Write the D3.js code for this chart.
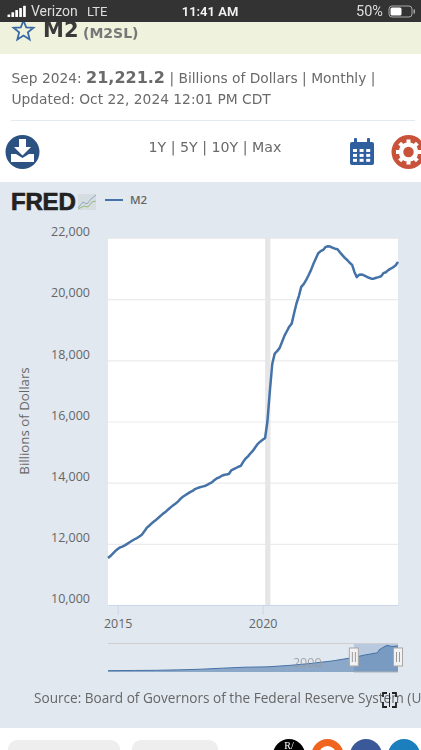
<!DOCTYPE html>
<html>
<head>
<meta charset="utf-8">
<script src="https://cdn.jsdelivr.net/npm/d3@7"></script>
<style>
  html, body { margin: 0; padding: 0; background: #fff; overflow: hidden; }
  svg { display: block; filter: blur(0.4px); }
  text { font-family: "Open Sans", sans-serif; }
  .top-text { font-family: "DejaVu Sans", sans-serif; fill: #6a6a6a; }
  .tick-label text { fill: #666; font-size: 12.5px; font-family: "Open Sans", sans-serif; }
</style>
</head>
<body>
<div id="chart"></div>
<script>
// M2 monthly, Sep 2014 to Sep 2024
const startMonth = "2014-09-01";
const values2014 = [11537, 11600, 11680, 11760];
const values2015 = [11830, 11885, 11910, 11950, 12000, 12050, 12100, 12150, 12190, 12240, 12300, 12400];
const values2016 = [12520, 12590, 12660, 12730, 12790, 12860, 12930, 13000, 13060, 13130, 13200, 13260];
const values2017 = [13320, 13390, 13470, 13540, 13590, 13640, 13690, 13730, 13790, 13820, 13850, 13870];
const values2018 = [13890, 13930, 13970, 14010, 14080, 14140, 14170, 14220, 14250, 14270, 14283, 14400];
const values2019 = [14440, 14480, 14520, 14550, 14680, 14790, 14860, 14960, 15045, 15160, 15270, 15340];
const values2020 = [15400, 15460, 16000, 17000, 17880, 18220, 18300, 18400, 18600, 18800, 18950, 19100];
const values2021 = [19200, 19550, 19850, 20100, 20400, 20490, 20620, 20780, 20950, 21150, 21330, 21500];
const values2022 = [21570, 21610, 21700, 21730, 21720, 21680, 21650, 21630, 21530, 21440, 21350, 21280];
const values2023 = [21190, 21120, 20900, 20720, 20800, 20810, 20780, 20740, 20700, 20670, 20670, 20700];
const values2024 = [20720, 20750, 20850, 20880, 20950, 21000, 21040, 21100, 21221];

const yTicks = [10000, 12000, 14000, 16000, 18000, 20000, 22000];
const xTickYears = [2015, 2020];
const recession = ["2020-02-01", "2020-04-08"];

// whole history for the navigator, rough yearly reading
const navYears = [1959, 1965, 1970, 1975, 1980, 1985, 1990, 1995, 2000, 2005, 2010, 2014.7, 2017, 2020.1, 2020.4, 2021, 2022.2, 2023.3, 2024.7];
const navValues = [290, 450, 600, 960, 1500, 2400, 3200, 3500, 4700, 6400, 8600, 11500, 13400, 15500, 17900, 19200, 21730, 20720, 21221];

const parseDate = d3.utcParse("%Y-%m-%d");
const allValues = [].concat(values2014, values2015, values2016, values2017, values2018, values2019, values2020, values2021, values2022, values2023, values2024);
const months = d3.utcMonth.range(parseDate(startMonth), d3.utcMonth.offset(parseDate(startMonth), allValues.length));
const data = months.map((m, i) => ({ date: m, value: allValues[i] }));

const W = 421, H = 750;
const plot = { left: 108, right: 398, top: 238, bottom: 605 };

const svg = d3.select("#chart").append("svg").attr("width", W).attr("height", H);

drawHeader();
drawChart();
drawNavigator();
drawFooter();

function drawHeader() {
  // title band, sits under the status bar
  svg.append("rect").attr("y", 22).attr("width", W).attr("height", 32).attr("fill", "#eff2dd");
  svg.append("path")
    .attr("d", starPath(23.5, 31, 10.5, 4.6))
    .attr("fill", "none").attr("stroke", "#3a6aa5").attr("stroke-width", 1.8);
  svg.append("text").attr("class", "top-text").attr("x", 43).attr("y", 37)
    .style("font-size", "21px").style("font-weight", "bold").style("fill", "#3a3a3a").text("M2");
  svg.append("text").attr("class", "top-text").attr("x", 83).attr("y", 38)
    .style("font-size", "14px").style("font-weight", "bold").style("fill", "#777").text("(M2SL)");

  // status bar
  svg.append("rect").attr("width", W).attr("height", 22).attr("fill", "#333");
  svg.selectAll(".signal").data([0, 1, 2, 3, 4]).enter().append("rect")
    .attr("x", d => 7.5 + d * 3.9).attr("y", d => 14.5 - d * 2.2)
    .attr("width", 2.7).attr("height", d => 2.5 + d * 2.2).attr("rx", 0.5).attr("fill", "#fff");
  statusText(31, "start", "Verizon", "#ddd").style("font-size", "14px");
  statusText(87, "start", "LTE", "#ddd");
  statusText(210, "middle", "11:41 AM", "#f4f4f4").style("font-weight", 600);
  statusText(356, "start", "50%", "#ddd").style("font-size", "14.5px");
  svg.append("rect").attr("x", 389).attr("y", 6).attr("width", 23).attr("height", 11).attr("rx", 3)
    .attr("fill", "none").attr("stroke", "#aaa").attr("stroke-width", 1);
  svg.append("rect").attr("x", 390.5).attr("y", 7.5).attr("width", 11).attr("height", 8).attr("rx", 1.5).attr("fill", "#fff");
  svg.append("rect").attr("x", 413.5).attr("y", 9.5).attr("width", 1.5).attr("height", 4).attr("fill", "#aaa");

  // value line
  const line1 = svg.append("text").attr("class", "top-text").attr("x", 11.5).attr("y", 83).style("font-size", "13.8px");
  line1.append("tspan").text("Sep 2024: ");
  line1.append("tspan").style("font-weight", "bold").style("font-size", "16px").text("21,221.2");
  line1.append("tspan").text(" | Billions of Dollars | Monthly |");
  svg.append("text").attr("class", "top-text").attr("x", 11.5).attr("y", 104).style("font-size", "13.8px")
    .text("Updated: Oct 22, 2024 12:01 PM CDT");
  svg.append("line").attr("x1", 11).attr("x2", 415).attr("y1", 120.5).attr("y2", 120.5)
    .attr("stroke", "#e3eaf1").attr("stroke-width", 1);

  svg.append("text").attr("class", "top-text").attr("x", 215).attr("y", 152).attr("text-anchor", "middle")
    .style("font-size", "14.2px").text("1Y | 5Y | 10Y | Max");

  // download button
  svg.append("circle").attr("cx", 22.5).attr("cy", 152).attr("r", 17).attr("fill", "#2c5282");
  svg.append("path").attr("d", "M19 139h7v8h5l-8.500 8.500l-8.500-8.500h5z").attr("fill", "#fff");
  svg.append("path").attr("d", "M11 154h5l6.500 4l6.500-4h5v8h-23z").attr("fill", "#fff");

  // calendar
  svg.append("rect").attr("x", 350).attr("y", 142).attr("width", 24).attr("height", 23).attr("rx", 2).attr("fill", "#2f5f9f");
  svg.append("rect").attr("x", 354).attr("y", 138).attr("width", 3).attr("height", 6).attr("rx", 1).attr("fill", "#2f5f9f");
  svg.append("rect").attr("x", 367).attr("y", 138).attr("width", 3).attr("height", 6).attr("rx", 1).attr("fill", "#2f5f9f");
  const cells = d3.cross([0, 1, 2], [0, 1, 2]);
  svg.selectAll(".cal").data(cells).enter().append("rect")
    .attr("x", d => 353 + d[0] * 6.6).attr("y", d => 149 + d[1] * 4.9)
    .attr("width", 4).attr("height", 3).attr("fill", "#fff");

  // settings gear
  svg.append("circle").attr("cx", 408.5).attr("cy", 152).attr("r", 17).attr("fill", "#c8523a");
  svg.append("circle").attr("cx", 408.5).attr("cy", 152).attr("r", 7.5).attr("fill", "none").attr("stroke", "#fff").attr("stroke-width", 4.5);
  svg.selectAll(".tooth").data(d3.range(8)).enter().append("rect")
    .attr("x", 406.5).attr("y", 139.5).attr("width", 4).attr("height", 4)
    .attr("fill", "#fff").attr("transform", d => `rotate(${d * 45} 408.5 152)`);
}

function statusText(x, anchor, label, color) {
  return svg.append("text").attr("x", x).attr("y", 16).attr("text-anchor", anchor)
    .style("font-family", "Roboto, sans-serif").style("font-size", "13px").attr("fill", color).text(label);
}

function starPath(cx, cy, r1, r2) {
  const pts = d3.range(10).map(i => {
    const r = i % 2 ? r2 : r1;
    const a = -Math.PI / 2 + i * Math.PI / 5;
    return [cx + r * Math.cos(a), cy + r * Math.sin(a)];
  });
  return d3.line()(pts) + "Z";
}

function drawChart() {
  svg.append("rect").attr("y", 182).attr("width", W).attr("height", 546).attr("fill", "#e1e8f0");

  // logo and legend
  svg.append("text").attr("x", 11).attr("y", 210)
    .style("font-family", "Liberation Sans, sans-serif").style("font-size", "24px").style("font-weight", "bold")
    .style("letter-spacing", "-0.2px").attr("fill", "#222").attr("stroke", "#222").attr("stroke-width", 0.7).text("FRED");
  svg.append("rect").attr("x", 78).attr("y", 194).attr("width", 18).attr("height", 16).attr("fill", "#d6dde1");
  svg.append("path").attr("d", "M78 208l5-6l4 2l4-5l5-4").attr("fill", "none").attr("stroke", "#8fa8c4").attr("stroke-width", 1);
  svg.append("path").attr("d", "M78 209l6-3l4 1l4-5l4-1").attr("fill", "none").attr("stroke", "#9ab87a").attr("stroke-width", 1);
  svg.append("line").attr("x1", 105).attr("x2", 123).attr("y1", 200).attr("y2", 200).attr("stroke", "#4572a7").attr("stroke-width", 2);
  svg.append("text").attr("x", 130).attr("y", 204).style("font-size", "11.5px").style("font-weight", 600).attr("fill", "#666").text("M2");

  const x = d3.scaleUtc()
    .domain(d3.extent(data, d => d.date))
    .range([plot.left, plot.right]);
  const y = d3.scaleLinear().domain([10000, 22000]).range([plot.bottom, plot.top]);

  svg.append("rect").attr("x", plot.left).attr("y", plot.top)
    .attr("width", plot.right - plot.left).attr("height", plot.bottom - plot.top).attr("fill", "#fff");

  // y axis with gridlines
  const yAxis = svg.append("g")
    .attr("class", "tick-label")
    .attr("transform", `translate(${plot.left},0)`)
    .call(d3.axisLeft(y).tickValues(yTicks).tickFormat(d3.format(",")).tickSize(-(plot.right - plot.left)).tickPadding(18));
  yAxis.select(".domain").remove();
  yAxis.selectAll("line").attr("stroke", "#ebebeb").attr("stroke-width", 1.2);
  yAxis.selectAll("text").attr("dy", "-0.18em");

  // recession band
  svg.append("rect")
    .attr("x", x(parseDate(recession[0]))).attr("y", plot.top)
    .attr("width", x(parseDate(recession[1])) - x(parseDate(recession[0])))
    .attr("height", plot.bottom - plot.top).attr("fill", "#e6e6e6");

  // x axis
  const xAxis = svg.append("g")
    .attr("class", "tick-label")
    .attr("transform", `translate(0,${plot.bottom})`)
    .call(d3.axisBottom(x)
      .tickValues(xTickYears.map(v => new Date(Date.UTC(v, 0, 1))))
      .tickFormat(d3.utcFormat("%Y")).tickSizeInner(10).tickSizeOuter(0).tickPadding(4));
  xAxis.select(".domain").attr("stroke", "#ccd6eb");
  xAxis.selectAll("line").attr("stroke", "#ccd6eb");

  svg.append("text")
    .attr("transform", "translate(29,421) rotate(-90)")
    .attr("text-anchor", "middle")
    .style("font-size", "13.3px").attr("fill", "#666")
    .text("Billions of Dollars");

  const line = d3.line().x(d => x(d.date)).y(d => y(d.value));
  svg.append("path").datum(data)
    .attr("fill", "none").attr("stroke", "#4572a7").attr("stroke-width", 2.5)
    .attr("stroke-linejoin", "round").attr("d", line);
}

function drawNavigator() {
  const navData = navYears.map((yr, i) => ({ year: yr, value: navValues[i] }));
  const x = d3.scaleLinear().domain([1959, 2024.7]).range([plot.left, plot.right]);
  const y = d3.scaleLinear().domain([0, 22000]).range([671, 645]);
  const selLeft = x(2014.7);

  svg.append("line").attr("x1", plot.left).attr("x2", plot.right).attr("y1", 643.5).attr("y2", 643.5)
    .attr("stroke", "#cfcfcf").attr("stroke-width", 1);
  svg.append("line").attr("x1", x(2000)).attr("x2", x(2000)).attr("y1", 644).attr("y2", 671)
    .attr("stroke", "#e6e6e6");

  svg.append("rect").attr("x", selLeft).attr("y", 644).attr("width", plot.right - selLeft).attr("height", 28)
    .attr("fill", "#b9c9e0");

  const area = d3.area().x(d => x(d.year)).y0(672).y1(d => y(d.value));
  const line = d3.line().x(d => x(d.year)).y(d => y(d.value));
  svg.append("path").datum(navData).attr("fill", "#4572a7").attr("fill-opacity", 0.55).attr("d", area);
  svg.append("path").datum(navData).attr("fill", "none").attr("stroke", "#4572a7").attr("stroke-width", 1).attr("d", line);

  svg.append("text").attr("x", x(2000) + 4).attr("y", 667).style("font-size", "12.5px").attr("fill", "#999").attr("fill-opacity", 0.85).text("2000");

  svg.append("line").attr("x1", selLeft).attr("x2", plot.right).attr("y1", 672).attr("y2", 672).attr("stroke", "#b5b5b5");
  [selLeft, plot.right].forEach(hx => {
    svg.append("rect").attr("x", hx - 4.5).attr("y", 648).attr("width", 9).attr("height", 18)
      .attr("fill", "#f2f2f2").attr("stroke", "#a8a8a8").attr("stroke-width", 1);
    svg.append("path").attr("d", `M${hx - 1.500} 652v10M${hx + 1.500} 652v10`).attr("stroke", "#999").attr("stroke-width", 1);
  });

  svg.append("text").attr("x", 34).attr("y", 703).style("font-size", "13.6px").attr("fill", "#666")
    .text("Source: Board of Governors of the Federal Reserve System (US)");

  // fullscreen corners
  svg.append("path")
    .attr("d", "M383 697v-4h4M396 697v-4h-4M383 702v5h4M396 702v5h-4")
    .attr("fill", "none").attr("stroke", "#222").attr("stroke-width", 1.8);
  svg.append("line").attr("x1", 389.500).attr("x2", 389.500).attr("y1", 693).attr("y2", 707).attr("stroke", "#222").attr("stroke-width", 1);
}

function drawFooter() {
  svg.append("rect").attr("x", 8).attr("y", 740).attr("width", 112).attr("height", 20).attr("rx", 9).attr("fill", "#eee");
  svg.append("rect").attr("x", 132).attr("y", 740).attr("width", 86).attr("height", 20).attr("rx", 9).attr("fill", "#eee");
  const circles = [[289, "#000"], [327.5, "#f0641e"], [366, "#3b5998"], [404, "#1b7fbd"]];
  svg.selectAll(".social").data(circles).enter().append("circle")
    .attr("cx", d => d[0]).attr("cy", 755).attr("r", 16).attr("fill", d => d[1]);
  svg.append("circle").attr("cx", 327.5).attr("cy", 755).attr("r", 9).attr("fill", "#fff");
  svg.append("text").attr("x", 289).attr("y", 749).attr("text-anchor", "middle")
    .style("font-family", "Liberation Serif, serif").style("font-size", "10px").attr("fill", "#fff").text("R/");
}
</script>
</body>
</html>
